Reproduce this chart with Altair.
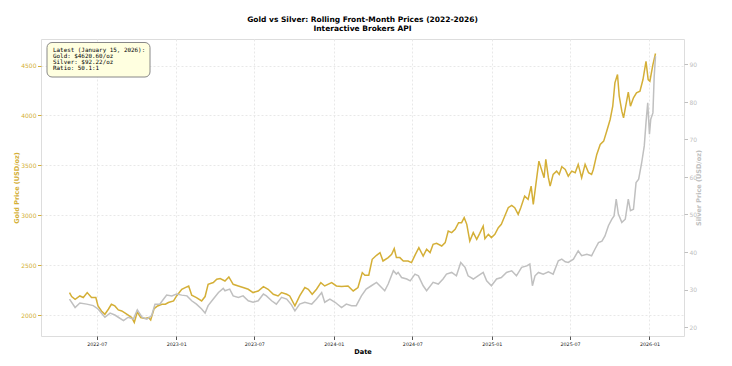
import altair as alt
import pandas as pd

# ---------------- data ----------------
gold_dates = [
    "2022-04-29", "2022-05-04", "2022-05-12", "2022-05-23", "2022-05-31", "2022-06-09", "2022-06-19", "2022-06-29",
    "2022-07-04", "2022-07-12", "2022-07-20", "2022-07-28", "2022-08-04", "2022-08-12", "2022-08-20", "2022-08-28",
    "2022-09-05", "2022-09-12", "2022-09-20", "2022-09-26", "2022-10-03", "2022-10-11", "2022-10-21", "2022-10-29",
    "2022-11-03", "2022-11-11", "2022-11-19", "2022-11-29", "2022-12-07", "2022-12-14", "2022-12-26", "2023-01-02",
    "2023-01-14", "2023-01-22", "2023-01-30", "2023-02-06", "2023-02-17", "2023-03-01", "2023-03-09", "2023-03-16",
    "2023-03-28", "2023-04-05", "2023-04-13", "2023-04-24", "2023-05-03", "2023-05-13", "2023-05-25", "2023-06-05",
    "2023-06-17", "2023-06-28", "2023-07-10", "2023-07-22", "2023-08-02", "2023-08-14", "2023-08-25", "2023-09-02",
    "2023-09-14", "2023-09-21", "2023-10-03", "2023-10-14", "2023-10-26", "2023-11-03", "2023-11-12", "2023-11-22",
    "2023-12-02", "2023-12-11", "2023-12-27", "2024-01-07", "2024-01-19", "2024-02-03", "2024-02-15", "2024-02-26",
    "2024-03-07", "2024-03-13", "2024-03-22", "2024-03-30", "2024-04-09", "2024-04-17", "2024-04-24", "2024-05-06",
    "2024-05-14", "2024-05-20", "2024-05-25", "2024-06-02", "2024-06-10", "2024-06-21", "2024-06-29", "2024-07-08",
    "2024-07-16", "2024-07-26", "2024-08-03", "2024-08-11", "2024-08-18", "2024-08-26", "2024-09-07", "2024-09-15",
    "2024-09-22", "2024-09-30", "2024-10-08", "2024-10-16", "2024-10-23", "2024-10-29", "2024-11-04", "2024-11-11",
    "2024-11-19", "2024-11-27", "2024-12-04", "2024-12-12", "2024-12-16", "2024-12-24", "2024-12-31", "2025-01-08",
    "2025-01-16", "2025-01-23", "2025-01-31", "2025-02-08", "2025-02-16", "2025-02-23", "2025-03-03", "2025-03-09",
    "2025-03-18", "2025-03-26", "2025-04-02", "2025-04-07", "2025-04-15", "2025-04-20", "2025-04-26", "2025-05-02",
    "2025-05-06", "2025-05-12", "2025-05-16", "2025-05-23", "2025-05-31", "2025-06-06", "2025-06-12", "2025-06-20",
    "2025-06-27", "2025-07-05", "2025-07-13", "2025-07-20", "2025-07-28", "2025-08-05", "2025-08-13", "2025-08-20",
    "2025-08-24", "2025-09-01", "2025-09-09", "2025-09-17", "2025-09-24", "2025-10-02", "2025-10-08", "2025-10-13",
    "2025-10-19", "2025-10-23", "2025-10-29", "2025-11-02", "2025-11-07", "2025-11-13", "2025-11-18", "2025-11-25",
    "2025-12-02", "2025-12-10", "2025-12-17", "2025-12-24", "2025-12-29", "2026-01-02", "2026-01-09", "2026-01-15",
]
gold_prices = [
    2227, 2187, 2160, 2193, 2177, 2227, 2177, 2177,
    2093, 2043, 2010, 2060, 2110, 2093, 2053, 2043,
    2020, 2000, 1977, 1927, 2033, 1977, 1967, 1977,
    1953, 2067, 2093, 2110, 2110, 2127, 2143, 2193,
    2260, 2277, 2293, 2200, 2177, 2143, 2187, 2310,
    2327, 2360, 2367, 2343, 2383, 2310, 2293, 2277,
    2260, 2227, 2243, 2287, 2260, 2210, 2193, 2227,
    2210, 2193, 2093, 2193, 2277, 2260, 2210, 2260,
    2327, 2293, 2327, 2293, 2287, 2293, 2243, 2277,
    2427, 2400, 2400, 2560, 2600, 2627, 2543, 2577,
    2610, 2667, 2577, 2577, 2543, 2543, 2527, 2610,
    2677, 2593, 2660, 2627, 2710, 2720, 2693, 2727,
    2843, 2827, 2860, 2927, 2927, 2977, 2910, 2743,
    2827, 2760, 2820, 2893, 2767, 2810, 2777, 2810,
    2877, 2910, 2993, 3077, 3100, 3077, 3010, 3077,
    3193, 3160, 3293, 3110, 3377, 3543, 3460, 3377,
    3560, 3377, 3293, 3410, 3443, 3410, 3487, 3460,
    3393, 3443, 3427, 3510, 3377, 3510, 3427, 3410,
    3460, 3610, 3710, 3743, 3843, 3960, 4093, 4327,
    4410, 4193, 4043, 3977, 4093, 4233, 4093, 4177,
    4227, 4243, 4360, 4543, 4360, 4343, 4510, 4620.60,
]

silver_dates = [
    "2022-04-29", "2022-05-12", "2022-05-23", "2022-06-08", "2022-06-23", "2022-07-04", "2022-07-20", "2022-08-01",
    "2022-08-12", "2022-08-20", "2022-09-01", "2022-09-12", "2022-09-24", "2022-10-03", "2022-10-14", "2022-10-25",
    "2022-11-05", "2022-11-13", "2022-11-24", "2022-12-03", "2022-12-10", "2022-12-22", "2023-01-02", "2023-01-14",
    "2023-01-26", "2023-02-06", "2023-02-17", "2023-03-01", "2023-03-09", "2023-03-16", "2023-03-28", "2023-04-09",
    "2023-04-20", "2023-04-24", "2023-05-05", "2023-05-13", "2023-05-25", "2023-06-05", "2023-06-17", "2023-06-28",
    "2023-07-10", "2023-07-22", "2023-07-29", "2023-08-10", "2023-08-21", "2023-09-02", "2023-09-14", "2023-09-25",
    "2023-10-03", "2023-10-14", "2023-10-26", "2023-11-11", "2023-11-22", "2023-12-04", "2023-12-11", "2023-12-23",
    "2024-01-04", "2024-01-19", "2024-01-30", "2024-02-11", "2024-02-22", "2024-03-05", "2024-03-16", "2024-03-28",
    "2024-04-09", "2024-04-20", "2024-04-28", "2024-05-06", "2024-05-18", "2024-05-25", "2024-05-29", "2024-06-06",
    "2024-06-18", "2024-06-26", "2024-07-07", "2024-07-15", "2024-07-26", "2024-08-03", "2024-08-18", "2024-08-30",
    "2024-09-10", "2024-09-18", "2024-09-30", "2024-10-11", "2024-10-21", "2024-10-31", "2024-11-07", "2024-11-19",
    "2024-11-30", "2024-12-12", "2024-12-20", "2024-12-31", "2025-01-12", "2025-01-23", "2025-02-04", "2025-02-16",
    "2025-02-27", "2025-03-11", "2025-03-23", "2025-03-30", "2025-04-05", "2025-04-11", "2025-04-19", "2025-04-30",
    "2025-05-12", "2025-05-23", "2025-06-04", "2025-06-12", "2025-06-20", "2025-06-27", "2025-07-09", "2025-07-20",
    "2025-07-28", "2025-08-09", "2025-08-20", "2025-08-28", "2025-09-05", "2025-09-13", "2025-09-20", "2025-09-28",
    "2025-10-06", "2025-10-11", "2025-10-16", "2025-10-21", "2025-10-29", "2025-11-06", "2025-11-13", "2025-11-18",
    "2025-11-25", "2025-12-01", "2025-12-07", "2025-12-14", "2025-12-20", "2025-12-24", "2025-12-28", "2026-01-01",
    "2026-01-04", "2026-01-09", "2026-01-12", "2026-01-15",
]
silver_prices = [
    27.45, 25.2, 26.4, 26.1, 25.7, 24.8, 22.6, 23.7,
    23.2, 22.6, 21.7, 22.6, 22.1, 24.6, 22.6, 22.1,
    23.0, 26.1, 26.1, 27.45, 28.5, 28.3, 28.8, 28.5,
    28.3, 27.0, 26.1, 24.8, 23.7, 25.7, 27.45, 29.2,
    30.3, 29.66, 30.1, 28.3, 27.9, 28.3, 27.0, 26.6,
    27.0, 28.8, 28.3, 27.0, 26.1, 27.9, 27.45, 25.9,
    24.3, 26.1, 26.6, 26.1, 27.45, 29.2, 26.6, 27.45,
    26.6, 25.2, 26.1, 25.7, 25.7, 28.3, 30.1, 31.0,
    31.9, 30.6, 29.66, 31.45, 35.0, 34.1, 34.55, 33.2,
    32.8, 32.3, 34.1, 33.65, 31.0, 29.66, 31.9, 31.45,
    32.8, 34.1, 34.55, 33.65, 37.2, 35.9, 33.65, 32.8,
    33.65, 34.55, 32.3, 31.0, 32.8, 33.2, 34.55, 35.0,
    33.65, 35.9, 36.3, 36.8, 31.0, 33.65, 34.55, 34.1,
    34.7, 34.1, 37.65, 38.1, 37.4, 37.2, 38.1, 40.3,
    39.0, 39.4, 39.0, 40.8, 42.5, 42.9, 44.3, 47.0,
    48.75, 49.6, 54.1, 50.1, 47.9, 48.75, 54.1, 51.0,
    51.4, 58.5, 59.4, 63.8, 68.3, 74.5, 79.8, 71.4,
    75.4, 77.1, 86.9, 92.22,
]

title_lines = ["Gold vs Silver: Rolling Front-Month Prices (2022-2026)", "Interactive Brokers API"]
latest_date_label = "January 15, 2026"
latest_gold = 4620.60
latest_silver = 92.22
gold_ticks = [2000, 2500, 3000, 3500, 4000, 4500]
silver_ticks = [20, 30, 40, 50, 60, 70, 80, 90]
x_tick_dates = ["2022-07-01", "2023-01-01", "2023-07-01", "2024-01-01",
                "2024-07-01", "2025-01-01", "2025-07-01", "2026-01-01"]
x_domain_dates = ["2022-02-22", "2026-03-22"]
gold_domain = [1792, 4766]
silver_domain = [17.6, 96.8]

# ---------------- styling ----------------
GOLD = "#D4AF37"
SILVER = "#C0C0C0"
FONT = "DejaVu Sans"


def dt(d):
    y, m, day = (int(p) for p in d.split("-"))
    return alt.DateTime(year=y, month=m, date=day, utc=True)


gold_df = pd.DataFrame({"date": gold_dates, "price": gold_prices})
silver_df = pd.DataFrame({"date": silver_dates, "price": silver_prices})

x_scale = alt.Scale(type="utc", domain=[dt(d) for d in x_domain_dates], nice=False)


def make_x_axis():
    return alt.Axis(
        values=[dt(d) for d in x_tick_dates], format="%Y-%m", title="Date",
        labelFontSize=4.8, labelColor="#222", titleFontSize=6.6, titleFontWeight="bold",
        titleColor="#000", titleFont=FONT, labelFont=FONT, tickSize=3.5, tickColor="#555",
        labelPadding=1.5, titlePadding=3, grid=True, gridColor="#e8e8e8", gridDash=[2, 2],
        domain=False, labelFlush=False, labelOverlap=False,
    )


gold_line = alt.Chart(gold_df).mark_line(color=GOLD, strokeWidth=1.5, clip=True).encode(
    x=alt.X("date:T", scale=x_scale, axis=make_x_axis()),
    y=alt.Y("price:Q", scale=alt.Scale(domain=gold_domain, zero=False, nice=False),
            axis=alt.Axis(orient="left", values=gold_ticks, format="d", title="Gold Price (USD/oz)",
                          labelColor=GOLD, titleColor=GOLD, tickColor=GOLD,
                          labelFontSize=6, titleFontSize=6.5, titleFontWeight="bold",
                          labelFont=FONT, titleFont=FONT, tickSize=3.5, labelPadding=1.5,
                          titlePadding=1.5, grid=True, gridColor="#e8e8e8", gridDash=[2, 2],
                          domain=False)),
)

silver_line = alt.Chart(silver_df).mark_line(color=SILVER, strokeWidth=1.5, clip=True).encode(
    x=alt.X("date:T", scale=x_scale, axis=make_x_axis()),
    y=alt.Y("price:Q", scale=alt.Scale(domain=silver_domain, zero=False, nice=False),
            axis=alt.Axis(orient="right", values=silver_ticks, format="d", title="Silver Price (USD/oz)",
                          labelColor=SILVER, titleColor=SILVER, tickColor=SILVER,
                          labelFontSize=6, titleFontSize=6.5, titleFontWeight="bold",
                          labelFont=FONT, titleFont=FONT, tickSize=3.5, labelPadding=1.5,
                          titlePadding=5, titleAngle=270, grid=False, domain=False)),
)

ratio = latest_gold / latest_silver
info_lines = [
    f"Latest ({latest_date_label}):",
    f"Gold: ${latest_gold:.2f}/oz",
    f"Silver: ${latest_silver:.2f}/oz",
    f"Ratio: {ratio:.1f}:1",
]
one = pd.DataFrame({"k": [0]})
info_box = alt.Chart(one).mark_rect(
    fill="#FFFFE0", stroke="#888888", strokeWidth=1, cornerRadius=5
).encode(x=alt.value(6), x2=alt.value(109), y=alt.value(3.5), y2=alt.value(38))

info_text = alt.Chart(one).mark_text(
    text=info_lines, align="left", baseline="top", font="DejaVu Sans Mono",
    fontSize=5.9, lineHeight=6.1, color="#000"
).encode(x=alt.value(12), y=alt.value(8))

chart = alt.layer(gold_line, silver_line, info_box, info_text).resolve_scale(
    y="independent"
).properties(
    width=643, height=297,
    autosize=alt.AutoSizeParams(type="none"),
    padding={"left": 33, "top": 31, "right": 40, "bottom": 20},
    title=alt.TitleParams(text=title_lines, fontSize=7.5, font=FONT, fontWeight="bold",
                          anchor="middle", color="#000", offset=7, lineHeight=9),
).configure_view(stroke="#666", strokeWidth=1).configure(background="white")

chart.save("out.html", embed_options={"renderer": "svg", "actions": False})
